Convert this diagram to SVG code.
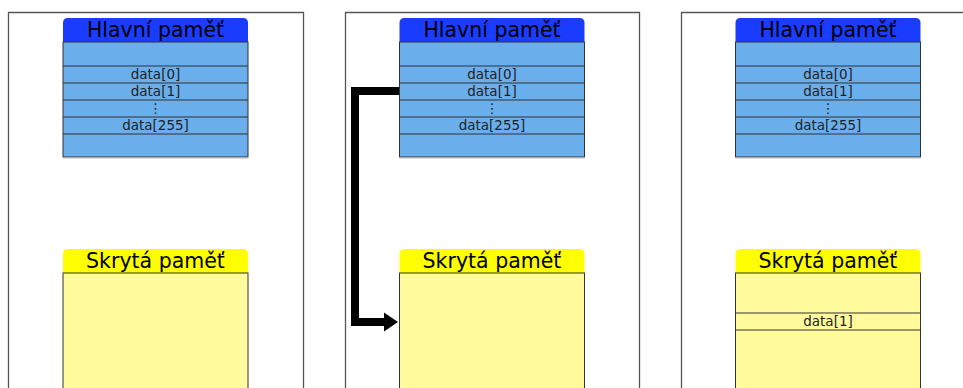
<svg xmlns="http://www.w3.org/2000/svg" width="963" height="388" viewBox="0 0 963 388">
  <style>
    .frame { fill: none; stroke: #555; stroke-width: 1.3; }
    .hdr-main { fill: #1a3cff; }
    .hdr-cache { fill: #ffff00; }
    .body-main { fill: #6aaeec; stroke: #333; stroke-width: 1; }
    .body-cache { fill: #fffb9c; stroke: #333; stroke-width: 1; }
    .sep { stroke: #333; stroke-width: 1; }
    .title { font-family: "DejaVu Sans", sans-serif; font-size: 20.5px; fill: #000; text-anchor: middle; }
    .cell { font-family: "DejaVu Sans", sans-serif; font-size: 13.5px; fill: #222; text-anchor: middle; }
    .conn { fill: none; stroke: #000; stroke-width: 8; }
    .head { fill: #000; }
  </style>
  <defs>
    <!-- main memory block, drawn at origin, width 185 -->
    <g id="mainMem">
      <path class="hdr-main" d="M0,42 V23 Q0,18 5,18 H180 Q185,18 185,23 V42 Z"/>
      <rect class="body-main" x="0" y="42" width="185" height="115"/>
      <line class="sep" x1="0" y1="66" x2="185" y2="66"/>
      <line class="sep" x1="0" y1="83" x2="185" y2="83"/>
      <line class="sep" x1="0" y1="100" x2="185" y2="100"/>
      <line class="sep" x1="0" y1="117" x2="185" y2="117"/>
      <line class="sep" x1="0" y1="134" x2="185" y2="134"/>
      <line x1="0" y1="158" x2="185" y2="158" stroke="#bbb" stroke-width="1"/>
      <text class="title" x="92.5" y="37">Hlavní paměť</text>
      <text class="cell" x="92.5" y="79">data[0]</text>
      <text class="cell" x="92.5" y="96">data[1]</text>
      <text class="cell" x="92.5" y="113">⋮</text>
      <text class="cell" x="92.5" y="130">data[255]</text>
    </g>
    <!-- cache block header and body -->
    <g id="cacheMem">
      <path class="hdr-cache" d="M0,273 V254 Q0,249 5,249 H180 Q185,249 185,254 V273 Z"/>
      <rect class="body-cache" x="0" y="273" width="185" height="130"/>
      <text class="title" x="92.5" y="268">Skrytá paměť</text>
    </g>
  </defs>

  <!-- panel frames -->
  <g id="frames">
    <path class="frame" d="M8.5,400 V12.5 H303.5 V400"/>
    <path class="frame" d="M345.5,400 V12.5 H639.5 V400"/>
    <path class="frame" d="M681.5,400 V12.5 H970"/>
  </g>

  <!-- panel 1 -->
  <g id="main1"><use href="#mainMem" x="63"/></g>
  <g id="cache1"><use href="#cacheMem" x="63"/></g>

  <!-- panel 2 -->
  <g id="main2"><use href="#mainMem" x="399.5"/></g>
  <g id="cache2"><use href="#cacheMem" x="399.5"/></g>

  <!-- panel 3 -->
  <g id="main3"><use href="#mainMem" x="735.5"/></g>
  <g id="cache3">
    <use href="#cacheMem" x="735.5"/>
    <line class="sep" x1="735.5" y1="313" x2="920.5" y2="313"/>
    <line class="sep" x1="735.5" y1="330" x2="920.5" y2="330"/>
    <text class="cell" x="828" y="326">data[1]</text>
  </g>

  <!-- connectors: copy of data[1] into the cache -->
  <g id="connectors">
    <path class="conn" d="M399,91 H355 V322 H385"/>
    <polygon class="head" points="384,312.5 398,322 384,331.5"/>
  </g>
</svg>
